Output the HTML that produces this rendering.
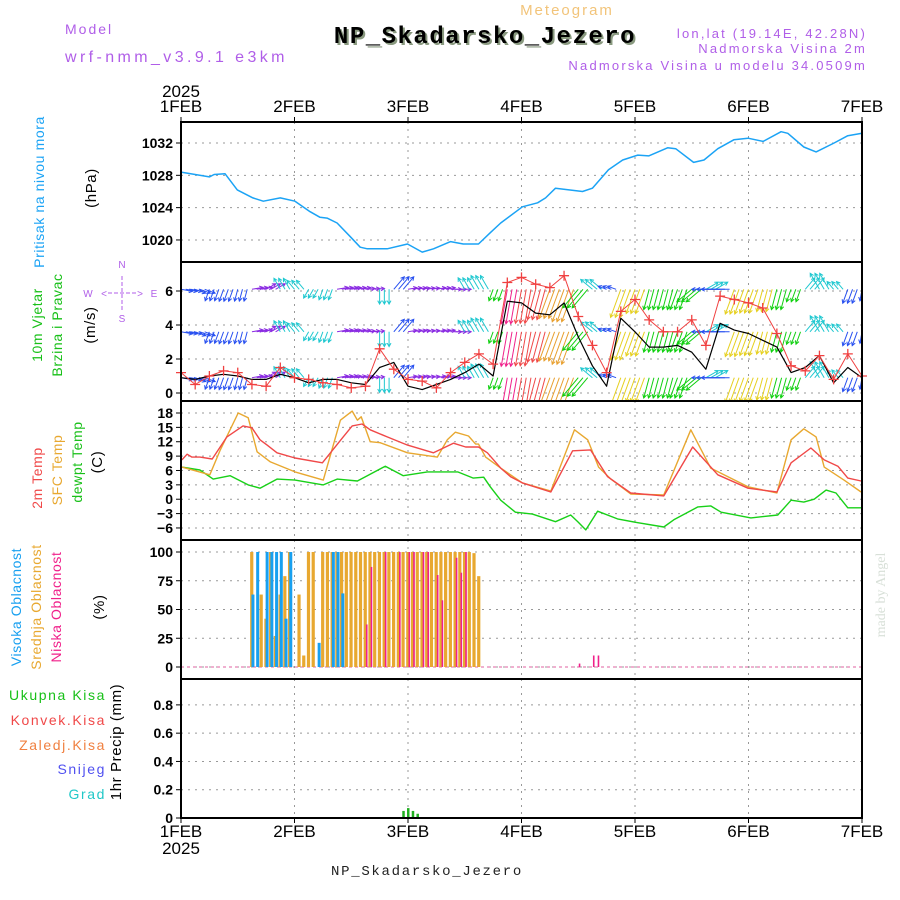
<!DOCTYPE html>
<html><head><meta charset="utf-8"><style>
html,body{margin:0;padding:0;background:#fff;}
svg{display:block;font-family:"Liberation Sans",sans-serif;}
</style></head><body>
<svg id="chart" width="900" height="900" viewBox="0 0 900 900" xmlns="http://www.w3.org/2000/svg">
<rect width="900" height="900" fill="#fff"/>
<text x="567" y="15" font-size="15" fill="#f2c47a" text-anchor="middle" letter-spacing="2">Meteogram</text>
<text x="65" y="34" font-size="14" fill="#b05ee8" letter-spacing="2">Model</text>
<text x="65" y="62" font-size="16" fill="#b05ee8" letter-spacing="3.4">wrf-nmm_v3.9.1 e3km</text>
<text x="487" y="45" font-size="24" font-weight="bold" fill="#8a9a80" text-anchor="middle" letter-spacing="1.5" font-family="Liberation Mono, monospace">NP_Skadarsko_Jezero</text>
<text x="485" y="43" font-size="24" font-weight="bold" fill="#000" text-anchor="middle" letter-spacing="1.5" font-family="Liberation Mono, monospace">NP_Skadarsko_Jezero</text>
<text x="867" y="38" font-size="13" fill="#b05ee8" text-anchor="end" letter-spacing="2.2">lon,lat (19.14E, 42.28N)</text>
<text x="867" y="53" font-size="13" fill="#b05ee8" text-anchor="end" letter-spacing="2.2">Nadmorska Visina 2m</text>
<text x="867" y="70" font-size="13" fill="#b05ee8" text-anchor="end" letter-spacing="2.2">Nadmorska Visina u modelu 34.0509m</text>
<text x="427" y="875" font-size="14" fill="#222" text-anchor="middle" letter-spacing="1.7" font-family="Liberation Mono, monospace">NP_Skadarsko_Jezero</text>
<text transform="translate(885,595) rotate(-90)" font-size="14" fill="#d8e0d8" text-anchor="middle" font-family="Liberation Serif, serif">made by Angel</text>
<g id="g"></g>
</svg>
<script>
// ---- data ----
const dayLabels = ["1FEB","2FEB","3FEB","4FEB","5FEB","6FEB","7FEB"];
const presTicks = [1020,1024,1028,1032];
const windTicks = [0,2,4,6];
const tempTicks = [-6,-3,0,3,6,9,12,15,18];
const cloudTicks = [0,25,50,75,100];
const precipTicks = [0,0.2,0.4,0.6,0.8];
const precipTickLabels = ["0","0.2","0.4","0.6","0.8"];

const presHours = [0,3,6,7,9.3,11.9,15.2,17.4,21,24.1,27.3,29.4,30.9,33,35.8,37.9,39.4,43.6,47.9,51,53.4,57,59.7,62.9,65.4,67.6,72.2,75.4,77.1,79.2,84.9,87,90.4,93.4,96.6,98.9,102.9,104.6,108.4,110.6,113.5,116.9,119.9,123.1,126.9,128.3,131.7,134.3,138.1,141,144];
const presVals = [1028.4,1028.1,1027.8,1028.1,1028.2,1026.2,1025.2,1024.8,1025.2,1024.8,1023.5,1022.8,1022.7,1022.1,1020.4,1019.1,1018.9,1018.9,1019.5,1018.5,1018.9,1019.8,1019.5,1019.5,1020.9,1022.1,1024.1,1024.6,1025.2,1026.4,1026.0,1026.4,1028.7,1029.9,1030.5,1030.4,1031.4,1031.3,1029.6,1029.9,1031.3,1032.4,1032.6,1032.2,1033.4,1033.2,1031.5,1030.9,1032.0,1032.9,1033.2];

const t2Hours = [0.2,1.3,2.3,4,6.6,9.7,13.1,15,16.7,18.2,20.3,24.1,29.9,34.3,36.2,38.3,40,43.6,47.9,53.4,57.6,60.2,62.9,64.8,67.6,69.7,72.2,78.2,82.8,86.6,90.2,95.1,102.1,108.2,113.5,119.9,126,129,133.2,136,138.9,141,143.8];
const t2Vals = [8.2,9.4,8.8,8.8,8.4,13,15.3,14.9,12.4,11.3,9.7,8.6,7.6,13,15.3,15.7,14.5,13,11.3,9.7,11.7,10.9,10.9,9.7,6.5,4.7,3.4,1.5,10.1,10.3,4.7,1.3,0.7,10.9,5.1,2.3,1.5,7.6,10.7,8.2,6.9,4.4,3.8];
const sfcHours = [0.2,6.1,8.3,12.1,14.2,16.1,18.9,24.1,30.1,33.7,36.2,37.3,38.1,40,42.1,47.9,54.2,56.3,58,60.8,62.3,62.9,64.4,67.6,72.2,78.2,83.2,86,88.3,90.9,95.1,102.1,107.8,112,119.9,126,129,131.7,134.3,136,140.2,143.8];
const sfcVals = [6.7,5.1,10.3,18,17,9.9,7.8,5.7,4,16.5,18.4,16.5,17.2,12,11.8,9.7,8.8,12.4,14,13.2,11.5,11.5,8.8,6.5,3.4,1.7,14.5,12.4,6.7,4.2,1.1,0.9,14.5,6.5,2.6,1.3,12.4,14.7,13,6.7,4,1.5];
const dewHours = [0.2,4,6.8,10.4,14.2,16.7,20.3,24.1,30.1,33,37.3,39.4,43.2,47,52.1,58.5,61.8,64,65.4,67.6,70.7,74.3,79.2,82.4,83.9,85.6,88.1,92.3,96.6,102.1,104.2,109.3,112,114.2,120.5,126.2,129,131.7,133.9,136.4,138.5,141,143.8];
const dewVals = [6.7,6.1,4.2,4.9,3,2.3,4.2,4,3,4.2,3.8,4.9,6.9,4.9,5.7,5.7,4.4,4.6,2.6,-0.2,-2.7,-3.1,-4.7,-3.3,-4.7,-6.4,-2.5,-4.1,-4.9,-5.8,-4.3,-1.6,-1.4,-2.7,-3.9,-3.3,-0.2,-0.6,0,1.9,1.3,-1.8,-1.8];

const windHours = [0,3,6,9,12,15,18,21,24,27,30,33,36,39,42,45,48,51,54,57,60,63,66,69,72,75,78,81,84,87,90,93,96,99,102,105,108,111,114,117,120,123,126,129,132,135,138,141,144];
const windSpeed = [0.9,0.8,1.0,1.1,1.0,0.8,0.8,1.1,0.9,0.6,0.8,0.8,0.6,0.5,1.5,1.8,0.4,0.2,0.5,0.8,1.2,1.7,1.0,5.4,5.3,4.7,4.6,5.3,3.3,1.6,0.4,4.4,3.6,2.7,2.7,2.8,2.4,1.4,4.1,3.7,3.5,3.1,2.7,1.2,1.5,2.2,0.6,1.5,0.9];
const windGust = [1.2,0.5,1.0,1.3,1.2,0.5,0.4,1.5,0.9,0.8,0.6,0.5,0.3,0.4,2.6,1.4,0.8,0.7,0.3,1.2,1.8,2.3,1.7,6.5,6.8,6.4,6.2,6.9,4.5,2.8,1.2,4.8,5.5,4.3,3.6,3.6,4.3,2.8,5.7,5.5,5.3,5.0,3.5,1.6,1.3,2.2,0.8,2.3,1.0];
const windDir = [100,110,200,200,195,80,60,330,320,210,200,80,80,85,180,40,80,80,80,90,330,330,200,190,190,195,200,200,220,310,290,200,200,195,195,200,230,60,270,200,200,195,195,200,40,330,320,200,190];
const windClass = ["b","b","b","b","b","p","p","c","c","c","c","p","p","p","c","b","p","p","p","p","c","c","g","k","r","r","o","o","g","c","b","y","y","g","g","g","g","c","b","y","y","y","g","g","c","c","c","b","b"];

const cloudHours = [15,16,17,18,19,20,21,22,23,25,26,27,28,29,30,31,32,33,34,35,36,37,38,39,40,41,42,43,44,45,46,47,48,49,50,51,52,53,54,55,56,57,58,59,60,61,62,63,84,87,88];
const cloudHigh = [63,100,0,100,100,100,100,42,100,0,0,0,0,21,0,0,100,100,64,0,0,0,0,0,0,0,0,0,0,0,0,0,0,0,0,0,0,0,0,0,0,0,0,0,0,0,0,0,0,0,0];
const cloudMid = [100,0,63,42,100,27,63,79,100,63,10,100,100,0,100,100,100,100,100,100,100,100,100,100,100,100,100,100,100,100,100,100,100,100,100,100,100,100,100,100,100,100,100,100,100,100,99,79,0,0,0];
const cloudLow = [0,0,0,0,0,0,0,0,0,0,0,0,0,0,0,0,0,0,0,0,0,0,0,37,87,0,0,100,0,0,100,0,100,100,0,100,100,0,80,58,0,0,95,82,100,0,0,0,3,10,10];

const precipHours = [47,48,49,50];
const precipVals = [0.05,0.07,0.05,0.03];

// ---- scales ----
const X0=181, X1=862;
const P=[122,262,401,540,679,818];
const xH = h => X0 + h*(X1-X0)/144;
const yPres = p => 143 + (1032-p)*8.08;
const yWind = v => 393 - v*17;
const yTemp = t => 413 + (18-t)*4.79;
const yCloud = c => 667 - c*1.15;
const yPrec = v => 818 - v*141.4;

const NS="http://www.w3.org/2000/svg";
const G=document.getElementById('g');
function mk(tag, attrs, parent){
  const e=document.createElementNS(NS,tag);
  for(const k in attrs) e.setAttribute(k,attrs[k]);
  (parent||G).appendChild(e); return e;
}
function txt(s, attrs){ const e=mk('text',attrs); e.textContent=s; return e; }

for(let i=0;i<5;i++){
  for(let d=1;d<6;d++){
    const gl=mk('line',{x1:xH(d*24),x2:xH(d*24),y1:P[i],y2:P[i+1],stroke:'#999','stroke-dasharray':'2,5'});
    
    
  }
}
function hgrid(ticks, yf, labels, name){
  ticks.forEach((t,i)=>{
    const y=yf(t);
    const l=mk('line',{x1:X0,x2:X1,y1:y,y2:y,stroke:'#999','stroke-dasharray':'2,5'});
    
    
    mk('line',{x1:X0-5,x2:X0,y1:y,y2:y,stroke:'#000'});
    const tl=txt(labels?labels[i]:String(t).replace('-','\u2212'),{x:X0-8,y:y+5,'font-size':14,'text-anchor':'end',fill:'#000','font-weight':'bold'});
    
    
  });
}
hgrid(presTicks,yPres,null,'pressure');
hgrid(windTicks,yWind,null,'wind');
hgrid(tempTicks,yTemp,null,'temp');
hgrid(cloudTicks,yCloud,null,'cloud');
hgrid(precipTicks,yPrec,precipTickLabels,'precip');

dayLabels.forEach((s,i)=>{
  const x=xH(i*24);
  const a=txt(s,{x:x,y:112,'font-size':17,'text-anchor':'middle',fill:'#000'});
  
  
  const b=txt(s,{x:x,y:837,'font-size':17,'text-anchor':'middle',fill:'#000'});
  
  
  mk('line',{x1:x,x2:x,y1:117,y2:122,stroke:'#000'});
  mk('line',{x1:x,x2:x,y1:818,y2:823,stroke:'#000'});
});
txt('2025',{x:181,y:97,'font-size':17,'text-anchor':'middle',fill:'#000'});
txt('2025',{x:181,y:854,'font-size':17,'text-anchor':'middle',fill:'#000'});

function path(hs, vs, yf, color, name, w){
  let d='';
  hs.forEach((h,i)=>{ d+=(i?'L':'M')+xH(h).toFixed(1)+','+yf(vs[i]).toFixed(1); });
  const p=mk('path',{d:d,fill:'none',stroke:color,'stroke-width':w||1.3,'stroke-linejoin':'round'});
  
  
}
path(presHours,presVals,yPres,'#1ba3f5','pressure-line',1.5);

const colMap={b:'#2850f0',p:'#8a2be2',c:'#20c8d0',g:'#10d010',k:'#f0208a',r:'#f04848',o:'#e8a030',y:'#e6d020'};
const rows=[6.1,3.6,0.9];
const clip=mk('clipPath',{id:'wclip'});
mk('rect',{x:X0,y:P[1],width:X1-X0,height:P[2]-P[1]},clip);
const wg=mk('g',{'clip-path':'url(#wclip)'});


windHours.forEach((h,i)=>{
  const len=7+windSpeed[i]*5.2;
  const a=windDir[i]*Math.PI/180;
  const dx=Math.sin(a)*len, dy=-Math.cos(a)*len;
  const col=colMap[windClass[i]];
  rows.forEach(r=>{
    for(let s=0;s<3;s++){
      if(h+s>144) continue;
      const x=xH(h+s), y=yWind(r);
      const ex=x+dx, ey=y+dy;
      const ha=Math.atan2(dy,dx);
      const d=`M${x},${y}L${ex},${ey}M${ex-4*Math.cos(ha-0.5)},${ey-4*Math.sin(ha-0.5)}L${ex},${ey}L${ex-4*Math.cos(ha+0.5)},${ey-4*Math.sin(ha+0.5)}`;
      const ar=mk('path',{d:d,stroke:col,'stroke-width':1,fill:'none'},wg);
      
      
    }
  });
});
path(windHours,windSpeed,yWind,'#000','wind-speed-line',1.2);
path(windHours,windGust,yWind,'#f04040','wind-gust-line',1);
windHours.forEach((h,i)=>{
  const x=xH(h), y=yWind(windGust[i]);
  const m=mk('path',{d:`M${x-5},${y}H${x+5}M${x},${y-5}V${y+5}`,stroke:'#f04040','stroke-width':1.3});
  
  
});

path(dewHours,dewVals,yTemp,'#18d018','dewpoint-line',1.4);
path(sfcHours,sfcVals,yTemp,'#e8a830','sfc-temp-line',1.4);
path(t2Hours,t2Vals,yTemp,'#f04848','t2m-line',1.4);

mk('line',{x1:X0,x2:X1,y1:667,y2:667,stroke:'#e060a0','stroke-dasharray':'3,3'});
cloudHours.forEach((h,i)=>{
  const x=xH(h);
  if(cloudMid[i]>0){const r=mk('rect',{x:x-1.8,y:yCloud(cloudMid[i]),width:3.2,height:667-yCloud(cloudMid[i]),fill:'#e8a830'});
    }
  if(cloudHigh[i]>0){const r=mk('rect',{x:x-0.5,y:yCloud(cloudHigh[i]),width:3,height:667-yCloud(cloudHigh[i]),fill:'#18a0f0'});
    }
  if(cloudLow[i]>0){const r=mk('rect',{x:x+0.5,y:yCloud(cloudLow[i]),width:1.6,height:667-yCloud(cloudLow[i]),fill:'#f0208a'});
    }
});

precipHours.forEach((h,i)=>{
  const r=mk('rect',{x:xH(h)-1,y:yPrec(precipVals[i]),width:2.5,height:818-yPrec(precipVals[i]),fill:'#20b020'});
  
  
});

for(let i=0;i<5;i++){
  const f=mk('rect',{x:X0,y:P[i],width:X1-X0,height:P[i+1]-P[i],fill:'none',stroke:'#000','stroke-width':2});
  
  
}

function vt(s,x,y,col,name,size){
  const t=txt(s,{transform:`translate(${x},${y}) rotate(-90)`,'font-size':size||14,fill:col,'text-anchor':'middle','letter-spacing':'0.6'});
  
  
}
vt('Pritisak na nivou mora',44,192,'#1ba3f5','pressure-title');
vt('(hPa)',96,188,'#000','pressure-unit',15);
vt('10m Vjetar',42,325,'#18c018','wind-title-1');
vt('Brzina i Pravac',62,325,'#18c018','wind-title-2');
vt('(m/s)',95,325,'#000','wind-unit',15);
vt('2m Temp',42,478,'#f04848','t2m-title');
vt('SFC Temp',62,470,'#e8a830','sfc-title');
vt('dewpt Temp',82,462,'#18c018','dewpt-title');
vt('(C)',102,462,'#000','temp-unit',15);
vt('Visoka Oblacnost',21,607,'#18a0f0','high-cloud-title');
vt('Srednja Oblacnost',41,607,'#e8a830','mid-cloud-title');
vt('Niska Oblacnost',61,607,'#f0208a','low-cloud-title');
vt('(%)',104,607,'#000','cloud-unit',15);
vt('1hr Precip (mm)',121,742,'#000','precip-title',15);
[['Ukupna Kisa','#18c018',700],['Konvek.Kisa','#f04848',725],['Zaledj.Kisa','#f08040',750],['Snijeg','#5050f0',774],['Grad','#20c8c8',799]].forEach(l=>{
  const t=txt(l[0],{x:106,y:l[2],'font-size':14,fill:l[1],'text-anchor':'end','letter-spacing':'1.6'});
  
  
});
const cg=mk('g',{fill:'#b05ee8','font-size':10,'text-anchor':'middle'});


[['N',122,268],['S',122,322],['W',88,297],['E',154,297],['<',104,297],['>',140,297]].forEach(c=>{const t=mk('text',{x:c[1],y:c[2]},cg);t.textContent=c[0];});
mk('path',{d:'M108,293H136M122,276V312',stroke:'#b05ee8','stroke-dasharray':'4,2',fill:'none'},cg);
</script>
</body></html>
